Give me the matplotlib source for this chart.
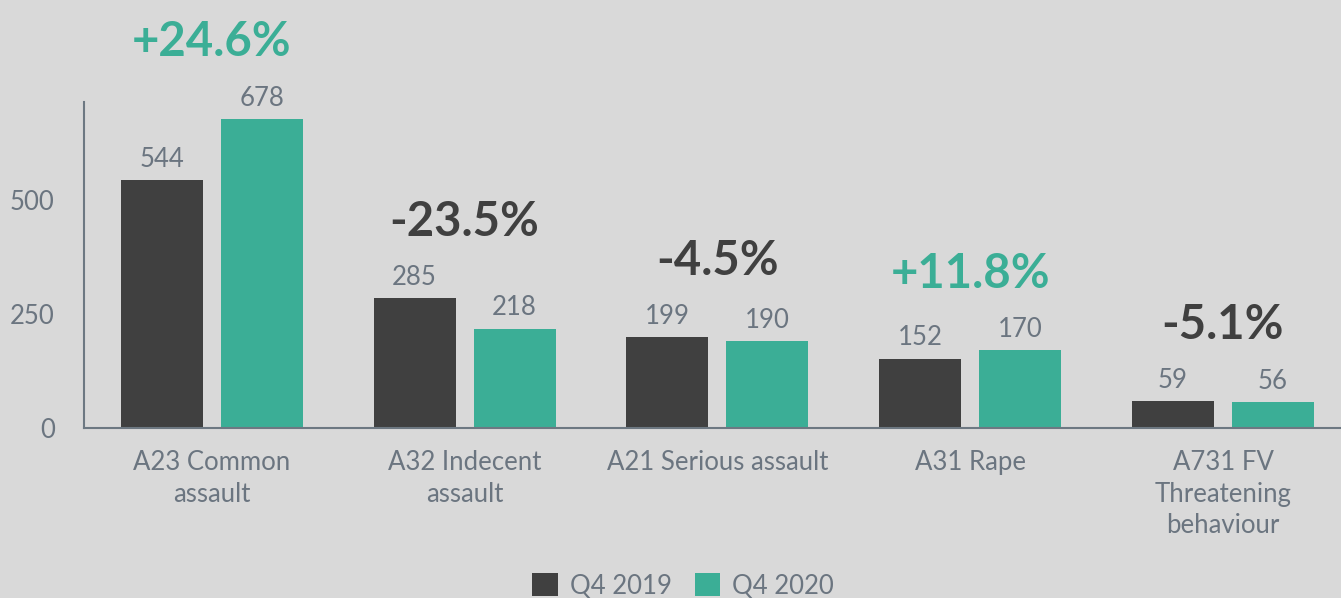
import matplotlib
matplotlib.use("Agg")
import matplotlib.pyplot as plt
import numpy as np
from matplotlib.patches import Patch

categories = ["A23 Common\nassault", "A32 Indecent\nassault", "A21 Serious assault",
              "A31 Rape", "A731 FV\nThreatening\nbehaviour"]
q4_2019 = [544, 285, 199, 152, 59]
q4_2020 = [678, 218, 190, 170, 56]
changes = ["+24.6%", "-23.5%", "-4.5%", "+11.8%", "-5.1%"]
series_names = ["Q4 2019", "Q4 2020"]

BG = "#D9D9D9"
DARK = "#404040"
TEAL = "#3BAE96"
GREY = "#6B7580"

plt.rcParams["font.family"] = ["Lato", "DejaVu Sans"]

fig = plt.figure(figsize=(13.41, 5.98), dpi=100)
fig.patch.set_facecolor(BG)
ax = fig.add_axes([84 / 1341, 170 / 598, 1257 / 1341, 326 / 598])
ax.set_facecolor(BG)

x = np.arange(len(categories))
bw = 0.3245
off = (bw + 0.071) / 2
b1 = ax.bar(x - off, q4_2019, bw, color=DARK)
b2 = ax.bar(x + off, q4_2020, bw, color=TEAL)

# value labels above each bar
for bars in (b1, b2):
    for r in bars:
        ax.annotate(f"{int(r.get_height())}", (r.get_x() + r.get_width() / 2, r.get_height()),
                    xytext=(0, 15), textcoords="offset points", ha="center", va="center",
                    fontsize=18.5, color=GREY)

# change labels over each group
for i, txt in enumerate(changes):
    top = max(q4_2019[i], q4_2020[i])
    col = TEAL if txt.startswith("+") else DARK
    ax.annotate(txt, (x[i], top), xytext=(0, 55), textcoords="offset points",
                ha="center", va="center", fontsize=34, fontweight="bold", color=col)

ax.set_xlim(-0.506, 4.467)
ax.set_ylim(0, 715)
ax.set_yticks([0, 250, 500])
ax.set_xticks(x)
ax.set_xticklabels(categories, linespacing=1.33)
ax.tick_params(axis="both", length=0, labelsize=18.5, labelcolor=GREY)
ax.tick_params(axis="y", pad=21)
ax.tick_params(axis="x", pad=16)
for s in ("top", "right"):
    ax.spines[s].set_visible(False)
for s in ("left", "bottom"):
    ax.spines[s].set_color("#6D7882")
    ax.spines[s].set_linewidth(1.5)

handles = [Patch(facecolor=DARK), Patch(facecolor=TEAL)]
fig.legend(handles, series_names, loc="center", bbox_to_anchor=(683 / 1341, 12 / 598),
           ncol=2, frameon=False, fontsize=18.5, labelcolor=GREY,
           handlelength=1.0, handleheight=1.0, handletextpad=0.45, columnspacing=0.9)

fig.savefig("out.png", dpi=100, facecolor=BG)
